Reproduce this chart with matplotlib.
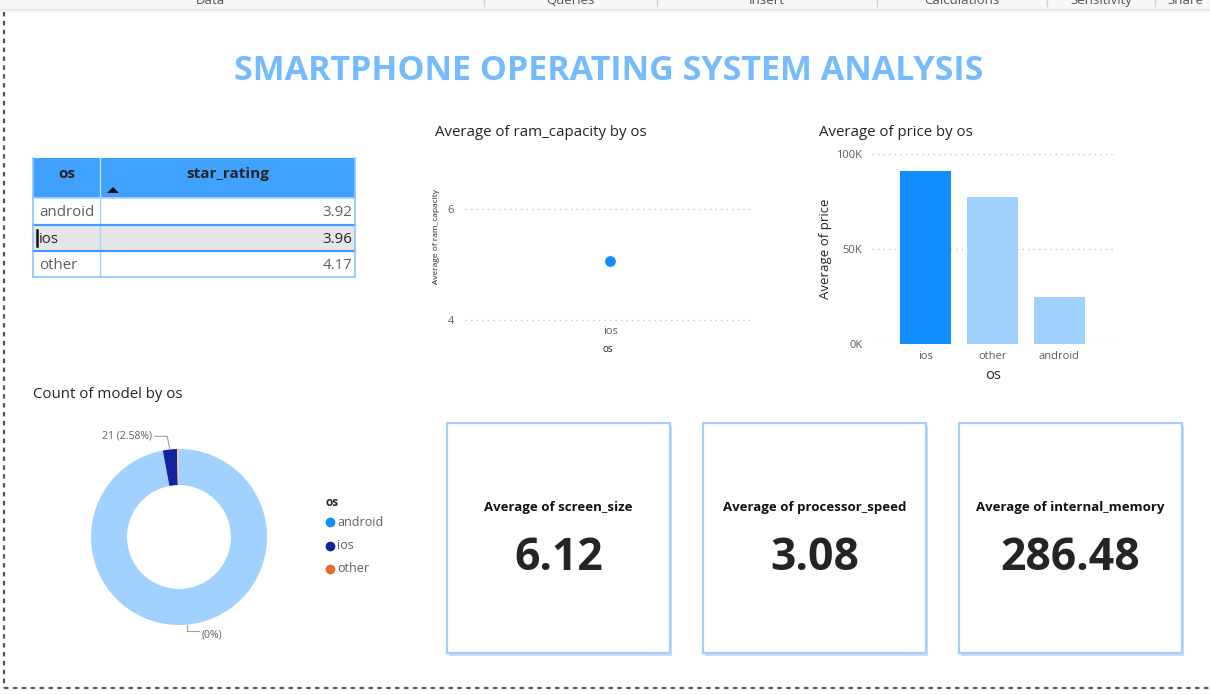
import matplotlib
matplotlib.use("Agg")
import matplotlib.pyplot as plt
from matplotlib.patches import Rectangle, Polygon
import numpy as np

# ---------------- data ----------------
table_os = ["android", "ios", "other"]
table_star_rating = [3.92, 3.96, 4.17]
table_selected = "ios"

ram_os = ["ios"]
ram_avg = [5.06]

price_os = ["ios", "other", "android"]
price_avg = [91000, 77400, 24700]
price_ticks = [0, 50000, 100000]
price_tick_labels = ["0K", "50K", "100K"]

donut_os = ["android", "ios", "other"]
donut_count = [790, 21, 3]
donut_labels = ["(0%)", "21 (2.58%)", ""]

kpi_titles = ["Average of screen_size", "Average of processor_speed", "Average of internal_memory"]
kpi_values = ["6.12", "3.08", "286.48"]

toolbar_items = ["Data", "Queries", "Insert", "Calculations", "Sensitivity", "Share"]

# ---------------- setup ----------------
W, H = 1210, 695
plt.rcParams['font.family'] = ['Open Sans', 'DejaVu Sans']
fig = plt.figure(figsize=(W / 100, H / 100), dpi=100)
fig.patch.set_facecolor('white')

TITLE_C = '#252423'
GRAY = '#605E5C'
GRID = '#C8C6C4'


def px_axes(x0, y0, x1, y1):
    return fig.add_axes([x0 / W, 1 - y1 / H, (x1 - x0) / W, (y1 - y0) / H])


bg = fig.add_axes([0, 0, 1, 1])
bg.set_xlim(0, W)
bg.set_ylim(H, 0)
bg.axis('off')

# toolbar strip
bg.add_patch(Rectangle((0, 0), W, 9, facecolor='#F7F7F7', edgecolor='none'))
for i, a in enumerate([0.10, 0.07, 0.045, 0.02]):
    bg.add_patch(Rectangle((0, 9 + i), W, 1, facecolor='#000000', alpha=a, edgecolor='none'))
tool_x = [210, 570, 767, 962, 1101, 1185]
for x, t in zip(tool_x, toolbar_items):
    bg.text(x, 0.5, t, ha='center', va='center', fontsize=9.5, color='#555555')
for x in [484, 657, 877, 1047, 1155]:
    bg.plot([x, x], [0, 6], color='#D0D0D0', lw=1)

# dotted page border
bg.plot([4, 4], [12, 688], color='#555555', lw=1.6, ls=(0, (2, 2)))
bg.plot([4, W], [688, 688], color='#555555', lw=1.6, ls=(0, (2, 2)))

# main title
bg.text(609, 71, "SMARTPHONE OPERATING SYSTEM ANALYSIS", ha='center', va='center',
        fontsize=24.5, fontweight='bold', color='#77BBFF')

# ---------------- table ----------------
tx0, tx1, tcol = 33, 355, 100
hy0, hy1 = 158, 198
rows = [(198, 225), (225, 251), (251, 277)]
bg.add_patch(Rectangle((tx0, hy0), tx1 - tx0, hy1 - hy0, facecolor='#41A1FF', edgecolor='none'))
bg.plot([tcol, tcol], [hy0, hy1], color='#BFDFFF', lw=1)
bg.text((tx0 + tcol) / 2, 174, "os", ha='center', va='center', fontsize=11,
        fontweight='bold', color=TITLE_C)
bg.text((tcol + tx1) / 2, 174, "star_rating", ha='center', va='center', fontsize=11,
        fontweight='bold', color=TITLE_C)
bg.add_patch(Polygon([(107, 193), (119, 193), (113, 187)], closed=True, facecolor='#111111',
                     edgecolor='none'))
for (y0, y1), name, val in zip(rows, table_os, table_star_rating):
    sel = name == table_selected
    if sel:
        bg.add_patch(Rectangle((tx0, y0), tx1 - tx0, y1 - y0, facecolor='#E6E6E6', edgecolor='none'))
    c = '#252423' if sel else GRAY
    bg.text(39, (y0 + y1) / 2 + 1.5, name, ha='left', va='center', fontsize=10.8, color=c)
    bg.text(352, (y0 + y1) / 2 + 1.5, f"{val:.2f}", ha='right', va='center', fontsize=10.8, color=c)
    bg.plot([tcol, tcol], [y0, y1], color='#A8D2FF', lw=1)
    if sel:
        bg.plot([37, 37], [y0 + 5, y1 - 5], color='#111111', lw=1.8)
# horizontal lines
bg.plot([tx0, tx1], [198, 198], color='#A8D2FF', lw=1.2)
bg.plot([tx0, tx1], [225, 225], color='#3E9BFF', lw=1.6)
bg.plot([tx0, tx1], [251, 251], color='#3E9BFF', lw=1.6)
bg.plot([tx0, tx1], [277, 277], color='#8EC3FF', lw=1.2)
bg.plot([tx0, tx0], [hy0, 277], color='#8EC3FF', lw=1.2)
bg.plot([tx1, tx1], [hy0, 277], color='#8EC3FF', lw=1.2)

# ---------------- scatter: ram capacity ----------------
bg.text(435, 132, "Average of ram_capacity by os", ha='left', va='center', fontsize=10.8, color=TITLE_C)
ax1 = px_axes(465, 190, 750, 322)
ax1.scatter(range(len(ram_os)), ram_avg, s=45, color='#118DFF', zorder=3)
ax1.set_ylim(3.964, 6.342)
ax1.set_xlim(-1.02, 0.98)
ax1.set_yticks([4, 6])
ax1.set_yticklabels(["4", "6"])
ax1.set_xticks(range(len(ram_os)))
ax1.set_xticklabels(ram_os)
ax1.grid(axis='y', ls=(0, (1, 3)), color=GRID, lw=1)
ax1.set_axisbelow(True)
for s in ax1.spines.values():
    s.set_visible(False)
ax1.tick_params(axis='y', length=0, pad=8, labelsize=8, labelcolor=GRAY)
ax1.tick_params(axis='x', length=0, pad=3, labelsize=8, labelcolor=GRAY)
ax1.set_ylabel("Average of ram_capacity", fontsize=6, color=TITLE_C)
ax1.yaxis.set_label_coords(-0.088, 0.644)
ax1.set_xlabel("os", fontsize=7, color=TITLE_C)
ax1.xaxis.set_label_coords(0.5, -0.17)

# ---------------- bar: price ----------------
bg.text(819, 132, "Average of price by os", ha='left', va='center', fontsize=10.8, color=TITLE_C)
ax2 = px_axes(872, 154, 1115, 344)
bar_colors = ['#118DFF' if o == table_selected else '#A0D1FF' for o in price_os]
ax2.bar(range(len(price_os)), price_avg, width=0.76, color=bar_colors, zorder=3)
ax2.set_ylim(0, 100000)
ax2.set_xlim(-0.8, 2.83)
ax2.set_yticks(price_ticks)
ax2.set_yticklabels(price_tick_labels)
ax2.set_xticks(range(len(price_os)))
ax2.set_xticklabels(price_os)
ax2.grid(axis='y', ls=(0, (1, 3)), color=GRID, lw=1)
ax2.set_axisbelow(True)
for s in ax2.spines.values():
    s.set_visible(False)
ax2.tick_params(axis='y', length=0, pad=7, labelsize=8, labelcolor=GRAY)
ax2.tick_params(axis='x', length=0, pad=5, labelsize=8, labelcolor=GRAY)
ax2.set_ylabel("Average of price", fontsize=9.5, color=TITLE_C)
ax2.yaxis.set_label_coords(-0.165, 0.5)
ax2.set_xlabel("os", fontsize=10.5, color=TITLE_C)
ax2.xaxis.set_label_coords(0.5, -0.125)

# ---------------- donut ----------------
bg.text(33, 395, "Count of model by os", ha='left', va='center', fontsize=10.8, color=TITLE_C)
ax3 = px_axes(79, 437, 279, 637)
donut_colors = ['#A0D1FF', '#12239E', '#F5C4AF']
wedges, _ = ax3.pie(donut_count, colors=donut_colors, startangle=90, counterclock=False,
                    radius=1, wedgeprops=dict(width=0.41, edgecolor='none'))
lim = 100 / 88
ax3.set_xlim(-lim, lim)
ax3.set_ylim(-lim, lim)
ax3.set_aspect('equal')
for w, lab in zip(wedges, donut_labels):
    if not lab:
        continue
    mid = np.deg2rad((w.theta1 + w.theta2) / 2)
    px, py = np.cos(mid), np.sin(mid)
    if py > 0:
        ex, ey = px - 0.03, py + 0.15
        tx, ty = ex - 0.14, ey
        ax3.plot([px, ex, tx], [py, ey, ty], color='#A19F9D', lw=0.8, clip_on=False)
        ax3.text(tx - 0.03, ty, lab, ha='right', va='center', fontsize=7.5, color=GRAY, clip_on=False)
    else:
        ex, ey = px, py - 0.07
        tx, ty = ex + 0.14, ey
        ax3.plot([px, ex, tx], [py, ey, ty], color='#A19F9D', lw=0.8, clip_on=False)
        ax3.text(tx + 0.03, ty - 0.05, lab, ha='left', va='center', fontsize=7.5, color=GRAY, clip_on=False)

# legend
legend_colors = ['#118DFF', '#12239E', '#E66C37']
bg.text(326, 502, "os", ha='left', va='center', fontsize=8.5, fontweight='bold', color=TITLE_C)
for i, (name, c) in enumerate(zip(donut_os, legend_colors)):
    y = 522 + i * 23.5
    bg.plot([330], [y], marker='o', ms=7, color=c, mec='none')
    bg.text(337, y, name, ha='left', va='center', fontsize=9, color=GRAY)

# ---------------- KPI cards ----------------
card_x = [447, 703, 959]
cw, cy0, cy1 = 223, 423, 653
for x0, t, v in zip(card_x, kpi_titles, kpi_values):
    bg.add_patch(Rectangle((x0 + 2, cy0 + 3), cw, cy1 - cy0, facecolor='#C9DFF5', edgecolor='none'))
    bg.add_patch(Rectangle((x0, cy0), cw, cy1 - cy0, facecolor='white', edgecolor='#A5CFFA', lw=1.6))
    cx = x0 + cw / 2
    bg.text(cx, 507, t, ha='center', va='center', fontsize=9.5, fontweight='bold', color='#111111')
    bg.text(cx, 558, v, ha='center', va='center', fontsize=32, fontweight='bold', color='#252423')

fig.savefig("out.png", dpi=100, facecolor='white')
